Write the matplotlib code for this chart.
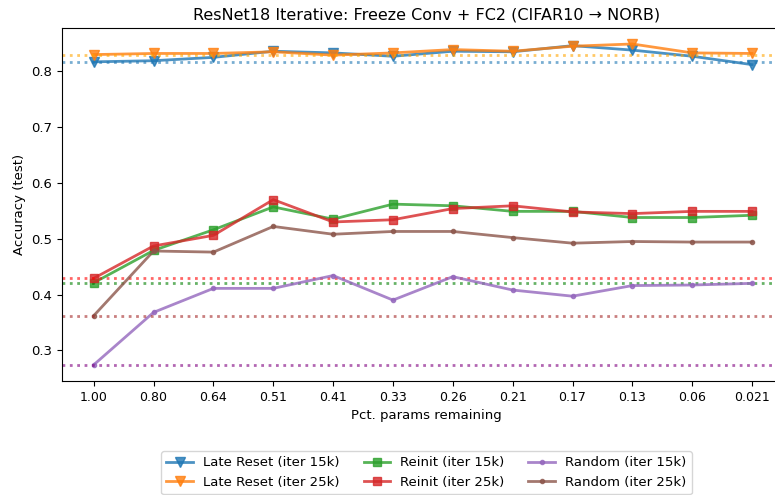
import numpy as np
import matplotlib
matplotlib.use("Agg")
import matplotlib.pyplot as plt

# fraction of params remaining (tick labels)
pct_labels = ["1.00", "0.80", "0.64", "0.51", "0.41", "0.33",
              "0.26", "0.21", "0.17", "0.13", "0.06", "0.021"]

late_reset_15k = [0.817, 0.819, 0.825, 0.836, 0.833, 0.827, 0.836, 0.835, 0.846, 0.838, 0.827, 0.812]
late_reset_25k = [0.830, 0.832, 0.832, 0.835, 0.829, 0.833, 0.839, 0.836, 0.845, 0.849, 0.833, 0.832]
reinit_15k = [0.421, 0.479, 0.516, 0.557, 0.535, 0.562, 0.559, 0.549, 0.549, 0.538, 0.538, 0.542]
reinit_25k = [0.429, 0.487, 0.506, 0.570, 0.530, 0.534, 0.554, 0.559, 0.548, 0.545, 0.549, 0.549]
random_15k = [0.274, 0.368, 0.411, 0.411, 0.434, 0.390, 0.432, 0.408, 0.397, 0.416, 0.417, 0.420]
random_25k = [0.362, 0.478, 0.476, 0.522, 0.508, 0.513, 0.513, 0.502, 0.492, 0.495, 0.494, 0.494]

x = np.arange(len(pct_labels))

fig = plt.figure(figsize=(7.75, 4.95), dpi=100)
ax = fig.add_axes([0.08, 0.2303, 0.9406, 0.7131])

series = [
    (late_reset_15k, "Late Reset (iter 15k)", "C0", "v", 7, "C0"),
    (late_reset_25k, "Late Reset (iter 25k)", "C1", "v", 7, "orange"),
    (reinit_15k, "Reinit (iter 15k)", "C2", "s", 6, "green"),
    (reinit_25k, "Reinit (iter 25k)", "C3", "s", 6, "red"),
    (random_15k, "Random (iter 15k)", "C4", ".", 6, "purple"),
    (random_25k, "Random (iter 25k)", "C5", ".", 6, "brown"),
]

for vals, label, c, m, ms, dc in series:
    ax.plot(x, vals, color=c, marker=m, markersize=ms, linewidth=2, alpha=0.8, label=label)
    # baseline at the unpruned value
    ax.axhline(vals[0], color=dc, linestyle=":", linewidth=2, alpha=0.6)

ax.set_xticks(x)
ax.set_xticklabels(pct_labels)
ax.set_xlim(-0.53, 11.65)
ax.set_ylim(0.245, 0.8776)
ax.set_yticks([0.3, 0.4, 0.5, 0.6, 0.7, 0.8])
ax.tick_params(axis="y", labelsize=9.5)
ax.tick_params(axis="x", labelsize=9)
ax.set_xlabel("Pct. params remaining", fontsize=9.5)
ax.set_ylabel("Accuracy (test)", fontsize=9.5)
ax.set_title("ResNet18 Iterative: Freeze Conv + FC2 (CIFAR10 \u2192 NORB)", fontsize=11.5)
ax.legend(loc="upper center", bbox_to_anchor=(0.5, -0.18), ncol=3, fontsize=9.5,
          handlelength=2, columnspacing=1.8)

plt.savefig("out.png", dpi=100)
